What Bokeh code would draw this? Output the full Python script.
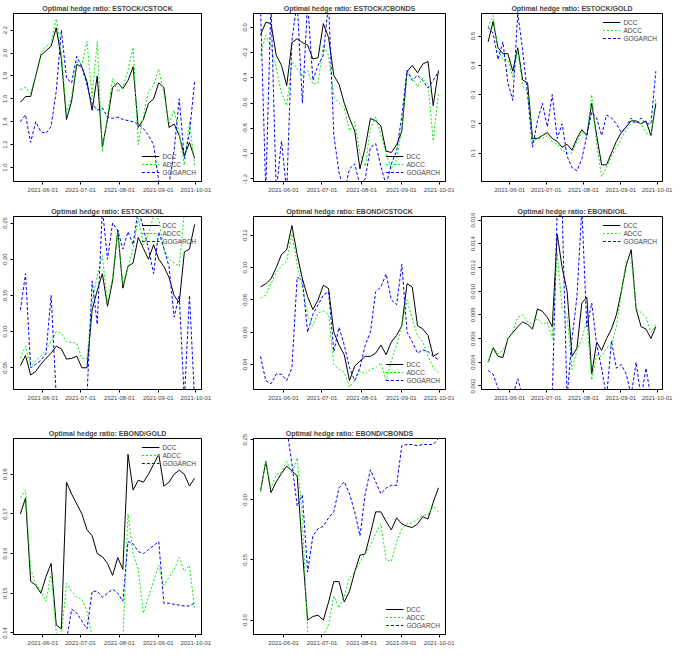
import pandas as pd
from bokeh.plotting import figure
from bokeh.models import Range1d, FixedTicker, DatetimeTickFormatter, NumeralTickFormatter
from bokeh.layouts import gridplot
from bokeh.embed import file_html
from bokeh.resources import INLINE

# sample dates (roughly every 4 days, mid May to end Sep 2021)
dates = pd.date_range("2021-05-14", "2021-09-30", periods=35)
month_ticks = ["2021-06-01", "2021-07-01", "2021-08-01", "2021-09-01", "2021-10-01"]
series_names = ["DCC", "ADCC", "GOGARCH"]

# ESTOCK/CSTOCK
dcc_es_cs = [1.57, 1.62, 1.62, 1.80, 1.98, 2.02, 2.06, 2.22, 1.95, 1.42, 1.58, 1.90, 1.88, 1.75, 1.50, 1.80, 1.18, 1.42,
             1.70, 1.74, 1.69, 1.76, 1.88, 1.35, 1.42, 1.56, 1.60, 1.74, 1.70, 1.35, 1.38, 1.28, 1.10, 1.22, 1.08]
adcc_es_cs = [1.68, 1.70, 1.65, 1.80, 2.00, 2.06, 2.08, 2.30, 2.00, 1.48, 1.62, 1.92, 1.90, 2.10, 1.62, 2.10, 1.14, 1.45,
              1.78, 1.66, 1.70, 1.85, 2.05, 1.20, 1.45, 1.66, 1.72, 1.86, 1.65, 1.38, 1.50, 1.30, 1.02, 1.40, 1.02]
gog_es_cs = [1.40, 1.46, 1.22, 1.40, 1.31, 1.30, 1.36, 1.67, 2.20, 1.78, 1.74, 1.97, 1.88, 1.72, 1.56, 1.50, 1.52, 1.44,
             1.43, 1.44, 1.42, 1.41, 1.40, 1.38, 1.34, 1.28, 1.20, 0.88, 0.80, 0.85, 1.15, 1.60, 1.08, 1.30, 1.75]

# ESTOCK/CBONDS
dcc_es_cb = [-0.06, 0.04, 0.03, -0.22, -0.30, -0.46, -0.12, -0.09, -0.12, -0.14, -0.25, -0.24, 0.03, -0.08, -0.38, -0.45,
             -0.60, -0.72, -0.82, -1.12, -0.95, -0.72, -0.74, -0.78, -0.98, -0.99, -0.93, -0.82, -0.35, -0.30, -0.36,
             -0.29, -0.27, -0.62, -0.34]
adcc_es_cb = [-0.22, -0.06, -0.15, -0.32, -0.52, -0.62, -0.27, -0.33, -0.38, -0.34, -0.45, -0.44, -0.14, -0.22, -0.55,
              -0.60, -0.64, -0.82, -0.75, -1.00, -1.10, -0.80, -0.71, -0.85, -1.00, -1.12, -1.05, -0.80, -0.36, -0.40,
              -0.47, -0.40, -0.45, -0.90, -0.52]
gog_es_cb = [0.15, -1.30, 0.20, -1.30, -0.90, -1.30, -0.10, 0.20, -0.60, 0.20, -0.42, -0.30, -0.22, 0.20, -0.85, -1.15,
             -1.30, -1.12, -1.08, -1.25, -1.20, -0.95, -0.92, -1.10, -1.25, -1.08, -0.98, -0.70, -0.34, -0.42, -0.38,
             -0.42, -0.48, -0.42, -0.35]

# ESTOCK/GOLD
dcc_es_go = [0.48, 0.55, 0.46, 0.44, 0.44, 0.38, 0.46, 0.35, 0.34, 0.15, 0.15, 0.16, 0.17, 0.15, 0.14, 0.12, 0.13, 0.11,
             0.15, 0.18, 0.16, 0.27, 0.16, 0.06, 0.06, 0.10, 0.14, 0.17, 0.19, 0.21, 0.21, 0.20, 0.21, 0.16, 0.27]
adcc_es_go = [0.53, 0.57, 0.45, 0.42, 0.42, 0.36, 0.45, 0.33, 0.31, 0.14, 0.15, 0.15, 0.16, 0.14, 0.13, 0.11, 0.10, 0.10,
              0.14, 0.17, 0.16, 0.30, 0.13, 0.02, 0.05, 0.09, 0.12, 0.15, 0.18, 0.20, 0.21, 0.20, 0.17, 0.16, 0.29]
gog_es_go = [0.53, 0.51, 0.42, 0.48, 0.34, 0.28, 0.58, 0.45, 0.30, 0.12, 0.21, 0.27, 0.19, 0.30, 0.15, 0.20, 0.09, 0.05,
             0.04, 0.08, 0.16, 0.24, 0.22, 0.16, 0.23, 0.22, 0.20, 0.17, 0.19, 0.22, 0.20, 0.22, 0.20, 0.20, 0.38]

# ESTOCK/OIL
dcc_es_oi = [0.053, 0.067, 0.040, 0.045, 0.055, 0.063, 0.070, 0.080, 0.076, 0.062, 0.063, 0.066, 0.050, 0.050, 0.130,
             0.157, 0.180, 0.135, 0.170, 0.240, 0.160, 0.190, 0.195, 0.230, 0.215, 0.200, 0.220, 0.200, 0.190, 0.175,
             0.150, 0.140, 0.210, 0.214, 0.248]
adcc_es_oi = [0.063, 0.080, 0.052, 0.060, 0.066, 0.075, 0.086, 0.100, 0.098, 0.086, 0.085, 0.084, 0.063, 0.063, 0.140,
              0.177, 0.205, 0.140, 0.175, 0.238, 0.165, 0.190, 0.214, 0.257, 0.220, 0.235, 0.260, 0.255, 0.214, 0.200,
              0.195, 0.190, 0.265, 0.265, 0.265]
gog_es_oi = [0.130, 0.180, 0.050, 0.055, 0.060, 0.070, 0.150, 0.010, 0.005, 0.005, 0.005, 0.005, 0.005, 0.010, 0.170,
             0.110, 0.270, 0.200, 0.250, 0.240, 0.214, 0.238, 0.220, 0.270, 0.243, 0.214, 0.180, 0.238, 0.215, 0.190,
             0.120, 0.150, 0.005, 0.150, 0.005]

# EBOND/CSTOCK
dcc_eb_cs = [0.088, 0.090, 0.093, 0.100, 0.108, 0.111, 0.126, 0.108, 0.093, 0.082, 0.074, 0.080, 0.089, 0.087, 0.060,
             0.052, 0.046, 0.030, 0.039, 0.042, 0.045, 0.045, 0.047, 0.052, 0.046, 0.054, 0.058, 0.064, 0.090, 0.088,
             0.064, 0.062, 0.058, 0.045, 0.047]
adcc_eb_cs = [0.081, 0.083, 0.090, 0.097, 0.101, 0.104, 0.121, 0.102, 0.088, 0.070, 0.064, 0.072, 0.073, 0.071, 0.040,
              0.037, 0.035, 0.026, 0.030, 0.036, 0.034, 0.037, 0.038, 0.041, 0.030, 0.042, 0.052, 0.064, 0.080, 0.068,
              0.058, 0.054, 0.045, 0.038, 0.035]
gog_eb_cs = [0.045, 0.030, 0.028, 0.034, 0.034, 0.030, 0.038, 0.094, 0.092, 0.060, 0.071, 0.077, 0.083, 0.085, 0.048,
             0.063, 0.052, 0.038, 0.030, 0.038, 0.052, 0.060, 0.085, 0.088, 0.096, 0.080, 0.077, 0.102, 0.060, 0.054,
             0.047, 0.049, 0.048, 0.045, 0.043]

# EBOND/OIL
dcc_eb_oi = [0.0040, 0.0052, 0.0045, 0.0044, 0.0060, 0.0065, 0.0070, 0.0074, 0.0072, 0.0068, 0.0085, 0.0083, 0.0078,
             0.0070, 0.0148, 0.0120, 0.0100, 0.0045, 0.0052, 0.0090, 0.0095, 0.0030, 0.0057, 0.0050, 0.0060, 0.0068,
             0.0080, 0.0100, 0.0122, 0.0135, 0.0085, 0.0070, 0.0068, 0.0060, 0.0070]
adcc_eb_oi = [0.0040, 0.0053, 0.0047, 0.0050, 0.0059, 0.0066, 0.0078, 0.0080, 0.0074, 0.0072, 0.0077, 0.0072, 0.0074,
              0.0060, 0.0132, 0.0085, 0.0080, 0.0034, 0.0050, 0.0060, 0.0075, 0.0025, 0.0046, 0.0045, 0.0052, 0.0055,
              0.0070, 0.0098, 0.0126, 0.0128, 0.0085, 0.0082, 0.0078, 0.0065, 0.0072]
gog_eb_oi = [0.0033, 0.0030, 0.0018, 0.0015, 0.0012, 0.0012, 0.0026, 0.0012, 0.0010, 0.0010, 0.0010, 0.0010, 0.0010,
             0.0010, 0.0170, 0.0170, 0.0010, 0.0060, 0.0095, 0.0170, 0.0070, 0.0090, 0.0055, 0.0035, 0.0010, 0.0058,
             0.0035, 0.0038, 0.0030, 0.0012, 0.0040, 0.0010, 0.0035, 0.0010, 0.0010]

# EBOND/GOLD
dcc_eb_go = [0.1700, 0.1740, 0.1530, 0.1520, 0.1500, 0.1542, 0.1575, 0.1420, 0.1410, 0.1780, 0.1750, 0.1725, 0.1700,
             0.1660, 0.1645, 0.1600, 0.1592, 0.1575, 0.1545, 0.1590, 0.1560, 0.1850, 0.1760, 0.1785, 0.1780, 0.1800,
             0.1825, 0.1850, 0.1770, 0.1780, 0.1800, 0.1810, 0.1800, 0.1770, 0.1790]
adcc_eb_go = [0.1740, 0.1760, 0.1560, 0.1525, 0.1505, 0.1480, 0.1550, 0.1400, 0.1390, 0.1525, 0.1505, 0.1490, 0.1485,
              0.1455, 0.1390, 0.1380, 0.1380, 0.1380, 0.1380, 0.1380, 0.1380, 0.1700, 0.1600, 0.1560, 0.1450, 0.1490,
              0.1530, 0.1570, 0.1520, 0.1540, 0.1560, 0.1590, 0.1555, 0.1570, 0.1460]
gog_eb_go = [0.1300, 0.1300, 0.1300, 0.1300, 0.1300, 0.1300, 0.1300, 0.1300, 0.1300, 0.1380, 0.1460, 0.1450, 0.1430,
             0.1410, 0.1505, 0.1505, 0.1490, 0.1500, 0.1510, 0.1500, 0.1480, 0.1630, 0.1625, 0.1605, 0.1600, 0.1610,
             0.1620, 0.1630, 0.1475, 0.1475, 0.1472, 0.1470, 0.1468, 0.1468, 0.1475]

# EBOND/CBONDS
dcc_eb_cb = [0.207, 0.232, 0.206, 0.215, 0.222, 0.228, 0.224, 0.220, 0.158, 0.100, 0.103, 0.104, 0.100, 0.115, 0.132,
             0.132, 0.115, 0.124, 0.140, 0.154, 0.155, 0.172, 0.190, 0.190, 0.182, 0.175, 0.185, 0.180, 0.178, 0.177,
             0.180, 0.186, 0.184, 0.198, 0.210]
adcc_eb_cb = [0.207, 0.232, 0.210, 0.221, 0.223, 0.232, 0.222, 0.235, 0.185, 0.090, 0.085, 0.085, 0.087, 0.096, 0.120,
              0.110, 0.120, 0.135, 0.140, 0.148, 0.155, 0.162, 0.172, 0.180, 0.150, 0.149, 0.165, 0.176, 0.180, 0.181,
              0.184, 0.187, 0.188, 0.195, 0.190]
gog_eb_cb = [0.270, 0.270, 0.270, 0.270, 0.252, 0.260, 0.230, 0.195, 0.204, 0.140, 0.170, 0.176, 0.178, 0.185, 0.190,
             0.210, 0.215, 0.205, 0.190, 0.170, 0.205, 0.225, 0.215, 0.205, 0.210, 0.212, 0.212, 0.245, 0.246, 0.246,
             0.245, 0.246, 0.246, 0.246, 0.251]

FONT = "Liberation Sans"
x_lo = pd.Timestamp("2021-05-08 12:00").to_pydatetime()
x_hi = pd.Timestamp("2021-10-05 12:00").to_pydatetime()

# column widths / left-right borders and row heights / bottom borders (R style uneven panels)
col_w = [226, 228, 220]
col_border = [(4, 25), (27, 9), (27, 12)]
row_h = [203, 222, 223]
row_bottom = [22, 36, 14]


def make_panel(title, dcc, adcc, gog, y_lo, y_hi, y_ticks, y_fmt, leg_loc, row, col):
    p = figure(width=col_w[col], height=row_h[row], x_axis_type="datetime", output_backend="svg",
               toolbar_location=None, x_range=Range1d(x_lo, x_hi), y_range=Range1d(y_lo, y_hi),
               min_border_left=col_border[col][0], min_border_right=col_border[col][1],
               min_border_top=0, min_border_bottom=row_bottom[row])
    p.title.text = "Optimal hedge ratio: " + title
    p.title.align = "center"
    p.title.text_font = FONT
    p.title.text_font_size = "7px"
    p.title.text_font_style = "bold"
    p.title.standoff = 4
    # the three hedge ratio series
    p.line(dates, dcc, color="black", line_width=1, legend_label=series_names[0])
    p.line(dates, adcc, color="#00ee00", line_width=1, line_dash="2 2", legend_label=series_names[1])
    p.line(dates, gog, color="#0000ff", line_width=1, line_dash="3 2", legend_label=series_names[2])
    p.xgrid.visible = False
    p.ygrid.visible = False
    p.outline_line_color = "black"
    p.xaxis.ticker = FixedTicker(ticks=[pd.Timestamp(d).value / 1e6 for d in month_ticks])
    p.xaxis.formatter = DatetimeTickFormatter(days="%Y-%m-%d", months="%Y-%m-%d", years="%Y-%m-%d")
    p.yaxis.ticker = FixedTicker(ticks=y_ticks)
    p.yaxis.formatter = NumeralTickFormatter(format=y_fmt)
    p.yaxis.major_label_orientation = "vertical"
    for ax in (p.xaxis, p.yaxis):
        ax.major_label_text_font = FONT
        ax.major_label_text_font_size = "6px"
        ax.major_tick_in = 0
        ax.major_tick_out = 3
        ax.minor_tick_out = 0
        ax.minor_tick_in = 0
        ax.major_label_standoff = 3
        ax.axis_line_color = "black"
    p.legend.location = leg_loc
    p.legend.label_text_font = FONT
    p.legend.label_text_font_size = "6.5px"
    p.legend.glyph_width = 18
    p.legend.glyph_height = 8
    p.legend.label_height = 8
    p.legend.label_standoff = 3
    p.legend.spacing = -1
    p.legend.padding = 2
    p.legend.margin = 3
    p.legend.background_fill_alpha = 0
    p.legend.border_line_alpha = 0
    return p


p1 = make_panel("ESTOCK/CSTOCK", dcc_es_cs, adcc_es_cs, gog_es_cs, 0.878, 2.345,
                [1.0, 1.2, 1.4, 1.6, 1.8, 2.0, 2.2], "0.0", "bottom_right", 0, 0)
p2 = make_panel("ESTOCK/CBONDS", dcc_es_cb, adcc_es_cb, gog_es_cb, -1.22, 0.11,
                [-1.2, -1.0, -0.8, -0.6, -0.4, -0.2, 0.0], "0.0", "bottom_right", 0, 1)
p3 = make_panel("ESTOCK/GOLD", dcc_es_go, adcc_es_go, gog_es_go, 0.003, 0.577,
                [0.1, 0.2, 0.3, 0.4, 0.5], "0.0", "top_right", 0, 2)
p4 = make_panel("ESTOCK/OIL", dcc_es_oi, adcc_es_oi, gog_es_oi, 0.02, 0.259,
                [0.05, 0.10, 0.15, 0.20, 0.25], "0.00", "top_right", 1, 0)
p5 = make_panel("EBOND/CSTOCK", dcc_eb_cs, adcc_eb_cs, gog_eb_cs, 0.0245, 0.1316,
                [0.04, 0.06, 0.08, 0.10, 0.12], "0.00", "bottom_right", 1, 1)
p6 = make_panel("EBOND/OIL", dcc_eb_oi, adcc_eb_oi, gog_eb_oi, 0.0017, 0.0163,
                [0.002, 0.004, 0.006, 0.008, 0.010, 0.012, 0.014, 0.016], "0.000", "top_right", 1, 2)
p7 = make_panel("EBOND/GOLD", dcc_eb_go, adcc_eb_go, gog_eb_go, 0.1396, 0.189,
                [0.14, 0.15, 0.16, 0.17, 0.18], "0.00", "top_right", 2, 0)
p8 = make_panel("EBOND/CBONDS", dcc_eb_cb, adcc_eb_cb, gog_eb_cb, 0.088, 0.251,
                [0.10, 0.15, 0.20, 0.25], "0.00", "bottom_right", 2, 1)

grid = gridplot([[p1, p2, p3], [p4, p5, p6], [p7, p8, None]], toolbar_location=None)

open("out.html", "w").write(file_html(grid, INLINE))
